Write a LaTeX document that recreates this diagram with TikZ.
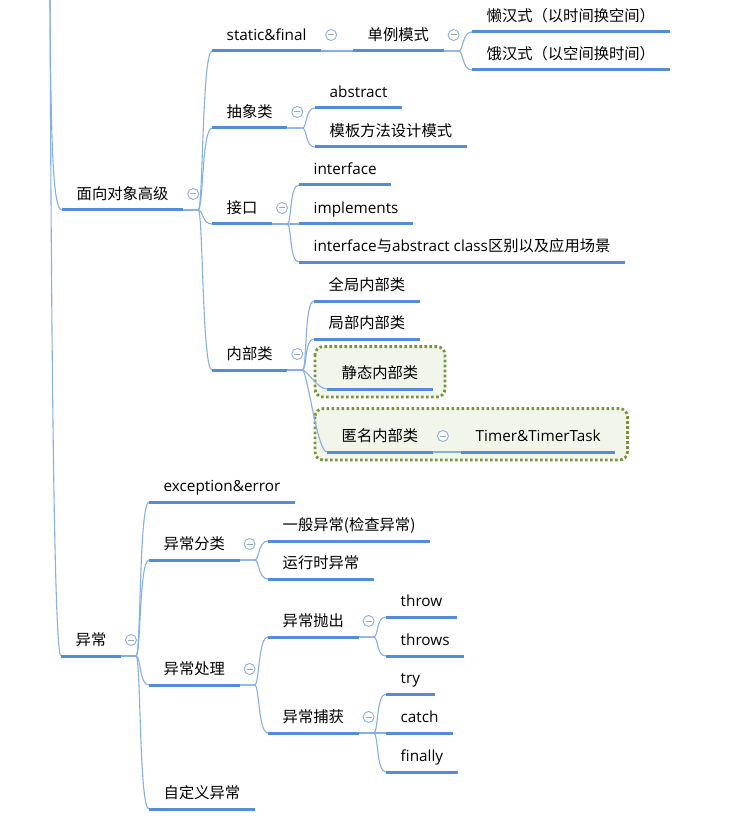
\documentclass[tikz,border=0pt]{standalone}
\usepackage{fontspec}
\setmainfont{Noto Sans CJK SC}
\newfontfamily\lat{Open Sans}
\usepackage{tikz}
\usetikzlibrary{backgrounds}

\definecolor{lineblue}{RGB}{83,141,213}
\definecolor{linklight}{RGB}{135,175,225}
\definecolor{foldblue}{RGB}{140,175,220}
\definecolor{groupedge}{RGB}{119,147,60}
\definecolor{groupfill}{RGB}{242,245,234}

% curved connector from the end of a parent's underline to a child's underline
\newcommand\branch[2]{\draw[link] (#1.south east) -- ++(15,0) .. controls +(5,0) and +(-10,0) .. (#2.south west);}

\begin{document}
\begin{tikzpicture}[x=1pt, y=-1pt, font=\fontsize{15.3}{18}\selectfont]
  \tikzstyle{topic}=[anchor=south west, inner xsep=14.5pt, inner ysep=6pt, text height=11pt, text depth=4pt]
  \tikzstyle{uline}=[draw=lineblue, line width=3pt]
  \tikzstyle{link}=[draw=linklight, line width=1.1pt]
  \tikzstyle{fold}=[circle, draw=foldblue, fill=white, line width=0.9pt, minimum size=11pt, inner sep=0pt,
    path picture={\draw[gray!70, line width=1pt] ([xshift=-3pt]path picture bounding box.center) -- ([xshift=3pt]path picture bounding box.center);}]
  \tikzstyle{groupbox}=[draw=groupedge, fill=groupfill, line width=2.8pt, dash pattern=on 2.6pt off 2.4pt, rounded corners=8pt]
  \useasboundingbox (0,0) rectangle (749,818);

  % main branches
  \node[topic] (oo) at (62,210) {面向对象高级};
  \node[topic] (exc) at (61,656) {异常};

  % 面向对象高级
  \node[topic] (sf) at (212,51) {\lat static\&final};
  \node[topic] (abst) at (212,128) {抽象类};
  \node[topic] (intf) at (212,224) {接口};
  \node[topic] (inner) at (212,370) {内部类};
  \node[topic] (singleton) at (353,51) {单例模式};
  \node[topic] (lazy) at (472,32) {懒汉式（以时间换空间）};
  \node[topic] (hungry) at (472,70) {饿汉式（以空间换时间）};
  \node[topic] (abstractkw) at (315,108) {\lat abstract};
  \node[topic] (tmpl) at (315,147) {模板方法设计模式};
  \node[topic] (ifkw) at (299,185) {\lat interface};
  \node[topic] (impl) at (299,224) {\lat implements};
  \node[topic] (diff) at (299,262) {{\lat interface}与{\lat abstract class}区别以及应用场景};
  \node[topic] (glob) at (314,301) {全局内部类};
  \node[topic] (local) at (314,339) {局部内部类};
  \node[topic] (stat) at (327,389) {静态内部类};
  \node[topic] (anon) at (327,452) {匿名内部类};
  \node[topic] (timer) at (461,452) {\lat Timer\&TimerTask};

  % 异常
  \node[topic] (ee) at (149,502) {\lat exception\&error};
  \node[topic] (cls) at (149,560) {异常分类};
  \node[topic] (handle) at (149,685) {异常处理};
  \node[topic] (custom) at (149,809) {自定义异常};
  \node[topic] (checked) at (268,541) {一般异常(检查异常)};
  \node[topic] (runtime) at (268,579) {运行时异常};
  \node[topic] (thrw) at (268,637) {异常抛出};
  \node[topic] (catchg) at (268,733) {异常捕获};
  \node[topic] (throwkw) at (386,617) {\lat throw};
  \node[topic] (throwskw) at (386,656) {\lat throws};
  \node[topic] (trykw) at (386,694) {\lat try};
  \node[topic] (catchkw) at (386,733) {\lat catch};
  \node[topic] (finallykw) at (386,772) {\lat finally};

  % highlighted groups
  \begin{scope}[on background layer]
    \draw[groupbox] ([shift={(-12,-15)}]stat.north west) rectangle ([shift={(12,8)}]stat.south east);
    \draw[groupbox] ([shift={(-12,-16)}]anon.north west) rectangle ([shift={(12,8)}]timer.south east);
  \end{scope}

  % trunk from the root above
  \coordinate (top) at (50,0);
  \draw[link] (top) .. controls (51,150) and (53,210) .. (oo.south west);
  \draw[link] (top) .. controls (52,500) and (56,656) .. (exc.south west);

  \foreach \c in {sf,abst,intf,inner} {\branch{oo}{\c}}
  \branch{sf}{singleton}
  \foreach \c in {lazy,hungry} {\branch{singleton}{\c}}
  \foreach \c in {abstractkw,tmpl} {\branch{abst}{\c}}
  \foreach \c in {ifkw,impl,diff} {\branch{intf}{\c}}
  \foreach \c in {glob,local,stat,anon} {\branch{inner}{\c}}
  \branch{anon}{timer}
  \foreach \c in {ee,cls,handle,custom} {\branch{exc}{\c}}
  \foreach \c in {checked,runtime} {\branch{cls}{\c}}
  \foreach \c in {thrw,catchg} {\branch{handle}{\c}}
  \foreach \c in {throwkw,throwskw} {\branch{thrw}{\c}}
  \foreach \c in {trykw,catchkw,finallykw} {\branch{catchg}{\c}}

  % underlines
  \foreach \n in {oo,exc,sf,abst,intf,inner,singleton,lazy,hungry,abstractkw,tmpl,ifkw,impl,diff,
                  glob,local,stat,anon,timer,ee,cls,handle,custom,checked,runtime,thrw,catchg,
                  throwkw,throwskw,trykw,catchkw,finallykw}
    \draw[uline] (\n.south west) -- (\n.south east);

  % collapse markers
  \foreach \p in {oo,exc,sf,abst,intf,inner,singleton,anon,cls,handle,thrw,catchg}
    \node[fold] (fold-\p) at ([shift={(10,-16)}]\p.south east) {};
\end{tikzpicture}
\end{document}
